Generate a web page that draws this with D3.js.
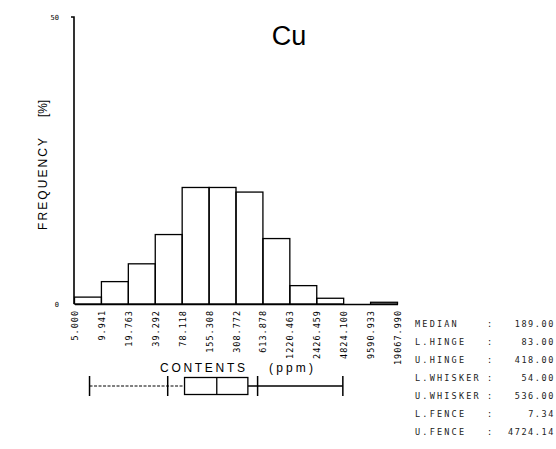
<!DOCTYPE html>
<html><head><meta charset="utf-8">
<script src="https://cdn.jsdelivr.net/npm/d3@7"></script>
<style>
html,body{margin:0;padding:0;background:#fff;}
svg{display:block;}
</style></head>
<body>
<div id="chart"></div>
<script>
// ---- data ----
const chartTitle = "Cu";
const binEdges = [5.000, 9.941, 19.763, 39.292, 78.118, 155.308, 308.772, 613.878, 1220.463, 2426.459, 4824.100, 9590.933, 19067.990];
const binEdgeLabels = ["5.000","9.941","19.763","39.292","78.118","155.308","308.772","613.878","1220.463","2426.459","4824.100","9590.933","19067.990"];
const frequencies = [1.2, 3.9, 7.0, 12.1, 20.3, 20.3, 19.5, 11.4, 3.2, 1.0, 0.0, 0.3];
const yTicks = [0, 50];
const statLabels = ["MEDIAN","L.HINGE","U.HINGE","L.WHISKER","U.WHISKER","L.FENCE","U.FENCE"];
const statValues = [189.00, 83.00, 418.00, 54.00, 536.00, 7.34, 4724.14];

const W = 556, H = 449;
const svg = d3.select("#chart").append("svg").attr("width", W).attr("height", H)
  .style("font-family","'Liberation Sans', Arial, sans-serif");

const x = d3.scaleLog().domain([binEdges[0], binEdges[binEdges.length-1]]).range([74.5, 397.5]);
const y = d3.scaleLinear().domain([0, 50]).range([304, 17]);

// bars
const bins = frequencies.map((f,i)=>({x0:binEdges[i], x1:binEdges[i+1], f}));
svg.append("g").selectAll("rect").data(bins).join("rect")
  .attr("x", d=>x(d.x0)).attr("width", d=>x(d.x1)-x(d.x0))
  .attr("y", d=>y(d.f)).attr("height", d=>y(0)-y(d.f))
  .attr("fill","none").attr("stroke","#000").attr("stroke-width",1.3);

// y axis
const yAxis = d3.axisLeft(y).tickValues(yTicks).tickSize(0).tickPadding(15).tickFormat(d3.format("d"));
const gy = svg.append("g").attr("transform","translate(74,0)").call(yAxis);
gy.select(".domain").attr("stroke","#000").attr("stroke-width",1.6).attr("d","M-3,17H0V304");
gy.selectAll("text").attr("font-size",7).attr("font-family","'DejaVu Sans Mono', monospace").attr("fill","#000");

// x axis baseline + rotated edge labels
const xAxis = d3.axisBottom(x).tickValues(binEdges).tickSize(0).tickFormat((d,i)=>binEdgeLabels[i]);
const gx = svg.append("g").attr("transform","translate(0,304)").call(xAxis);
gx.select(".domain").attr("stroke","#000").attr("stroke-width",1.3);
gx.selectAll("text")
  .attr("font-size",8.5).attr("font-family","'DejaVu Sans Mono', monospace").attr("fill","#000")
  .attr("letter-spacing",1).attr("text-anchor","end").attr("dy",null).attr("y",0)
  .attr("transform","translate(3,6) rotate(-90)");

// title
svg.append("text").attr("x",289).attr("y",45).attr("text-anchor","middle")
  .attr("font-size",27).attr("font-weight",300).text(chartTitle);

// y label
svg.append("text").attr("transform","translate(47,230) rotate(-90)")
  .attr("font-size",12).attr("textLength",92).attr("lengthAdjust","spacing").text("FREQUENCY");
svg.append("text").attr("transform","translate(47,117) rotate(-90)")
  .attr("font-size",12).attr("textLength",17).attr("lengthAdjust","spacing").text("[%]");

// x label
svg.append("text").attr("x",160).attr("y",372).attr("font-size",12)
  .attr("textLength",85).attr("lengthAdjust","spacing").text("CONTENTS");
svg.append("text").attr("x",269).attr("y",372).attr("font-size",12)
  .attr("textLength",44).attr("lengthAdjust","spacing").text("(ppm)");

// box plot
const st = {};
statLabels.forEach((l,i)=>st[l]=statValues[i]);
const by = 386, bh = 17, th = 10;
const bp = svg.append("g").attr("stroke","#000").attr("fill","none");
bp.append("line").attr("x1",x(st["L.FENCE"])).attr("x2",x(st["L.HINGE"])).attr("y1",by).attr("y2",by)
  .attr("stroke-width",1).attr("stroke-dasharray","3,1.5");
bp.append("line").attr("x1",x(st["U.HINGE"])).attr("x2",x(st["U.FENCE"])).attr("y1",by).attr("y2",by)
  .attr("stroke-width",1.3);
["L.FENCE","L.WHISKER","U.WHISKER","U.FENCE"].forEach(k=>{
  bp.append("line").attr("x1",x(st[k])).attr("x2",x(st[k])).attr("y1",by-th).attr("y2",by+th).attr("stroke-width",1.5);
});
bp.append("rect").attr("x",x(st["L.HINGE"])).attr("width",x(st["U.HINGE"])-x(st["L.HINGE"]))
  .attr("y",by-bh/2).attr("height",bh).attr("fill","#fff").attr("stroke-width",1.3);
bp.append("line").attr("x1",x(st["MEDIAN"])).attr("x2",x(st["MEDIAN"])).attr("y1",by-bh/2).attr("y2",by+bh/2).attr("stroke-width",1.3);

// stats table
const tbl = svg.append("g").attr("font-family","'DejaVu Sans Mono', monospace").attr("font-size",8.5).attr("fill","#222");
statLabels.forEach((l,i)=>{
  const ty = 327 + i*18;
  tbl.append("text").attr("x",415).attr("y",ty).attr("letter-spacing",2.2).text(l);
  tbl.append("text").attr("x",487).attr("y",ty).text(":");
  tbl.append("text").attr("x",555).attr("y",ty).attr("text-anchor","end").attr("letter-spacing",1.6)
    .text(d3.format(".2f")(statValues[i]));
});
</script>
</body></html>
